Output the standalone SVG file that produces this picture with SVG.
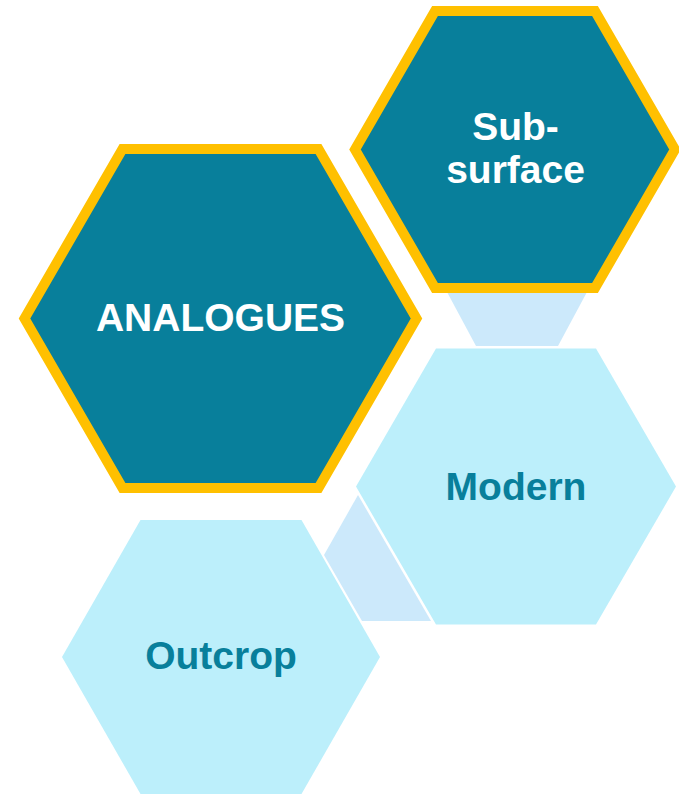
<svg xmlns="http://www.w3.org/2000/svg" width="679" height="795" viewBox="0 0 679 795">
  <style>
    .dark { fill: #087F9B; stroke: #FFC000; stroke-width: 10; stroke-linejoin: miter; }
    .light { fill: #BCEFFB; }
    .conn { fill: #CCE9FB; }
    .t { font-family: "Liberation Sans", Arial, sans-serif; font-weight: bold; text-anchor: middle; }
    .tw { fill: #FFFFFF; }
    .tb { fill: #087F9B; }
  </style>
  <rect x="0" y="0" width="679" height="795" fill="#FFFFFF"/>
  <g id="connectors">
    <polygon class="conn" points="447,292 587,292 558,346 476,346"/>
    <polygon class="conn" points="358,495 324,555 362,621 431,621"/>
  </g>
  <g id="node-analogues">
    <polygon class="dark" points="24.5,318.5 122.5,149 318.5,149 416.5,318.5 318.5,488 122.5,488"/>
    <text class="t tw" x="220.5" y="331" font-size="39">ANALOGUES</text>
  </g>
  <g id="node-subsurface">
    <polygon class="dark" points="355,149.5 435,11 595,11 675,149.5 595,288 435,288"/>
    <text class="t tw" x="515.5" y="140" font-size="39">Sub-</text>
    <text class="t tw" x="515.5" y="183" font-size="39">surface</text>
  </g>
  <g id="node-modern">
    <polygon class="light" points="356,486.5 436,348.5 596,348.5 676,486.5 596,624.5 436,624.5"/>
    <text class="t tb" x="516" y="500" font-size="39">Modern</text>
  </g>
  <g id="node-outcrop">
    <polygon class="light" points="62,657 140.5,520 301.5,520 380,657 301.5,794 140.5,794"/>
    <text class="t tb" x="221" y="669" font-size="39">Outcrop</text>
  </g>
</svg>
